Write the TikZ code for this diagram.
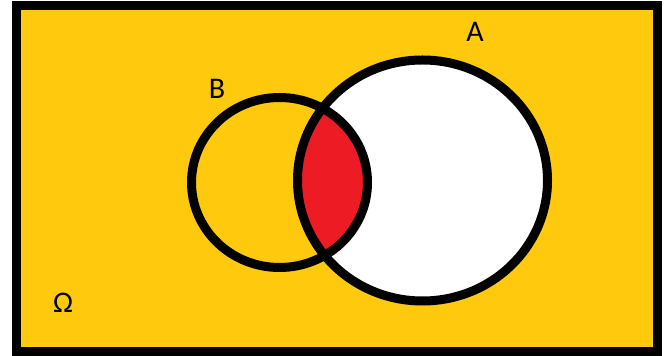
\documentclass[tikz,border=0pt]{standalone}
\usepackage{fontspec}
\setmainfont{Carlito}
\definecolor{paintyellow}{HTML}{FFC90E}
\definecolor{paintred}{HTML}{ED1C24}
\begin{document}
\begin{tikzpicture}[x=1pt,y=1pt,
  setline/.style={draw=black,line width=9pt},
  setlabel/.style={font=\fontsize{30}{30}\selectfont,text=black,inner sep=0pt}]
\useasboundingbox (0,0) rectangle (667,356);
% universe
\fill[paintyellow] (16.5,4) rectangle (657,350.5);
% set A interior
\fill[white] (422.5,175.5) ellipse [x radius=125, y radius=120.5];
% intersection
\begin{scope}
  \clip (279.5,173.5) ellipse [x radius=88, y radius=85];
  \fill[paintred] (422.5,175.5) ellipse [x radius=125, y radius=120.5];
\end{scope}
\draw[setline] (16.5,4) rectangle (657,350.5);
\draw[setline] (422.5,175.5) ellipse [x radius=125, y radius=120.5];
\draw[setline] (279.5,173.5) ellipse [x radius=88, y radius=85];
\node[setlabel] (labA) at (475,324) {A};
\node[setlabel] (labB) at (217,267) {B};
\node[setlabel] (labO) at (63,53) {Ω};
\end{tikzpicture}
\end{document}
